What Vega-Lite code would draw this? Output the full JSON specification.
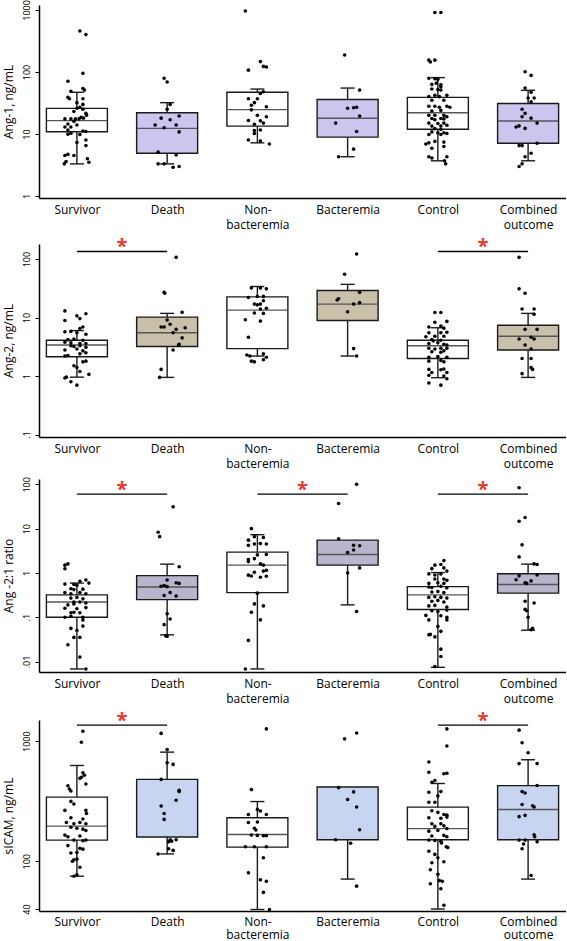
{
"$schema":"https://vega.github.io/schema/vega-lite/v6.json",
"padding":{"left":2,"top":-1,"right":0,"bottom":0},
"spacing":7,
"resolve":{"scale":{"fill":"independent"}},
"config":{"font":"Open Sans","view":{"stroke":null},"axis":{"grid":false,"domainColor":"black","tickColor":"black","labelColor":"black","titleColor":"black","labelFont":"Open Sans","titleFont":"Open Sans"},"axisY":{"labelFlush":false}},
"datasets":{
"p1":[
{"g":"Survivor","v":457,"j":0.1},{"g":"Survivor","v":400,"j":0.3},{"g":"Survivor","v":95,"j":0.2},{"g":"Survivor","v":71,"j":-0.3},{"g":"Survivor","v":49,"j":-0.2},{"g":"Survivor","v":54,"j":0.2},{"g":"Survivor","v":51,"j":0.25},{"g":"Survivor","v":39,"j":-0.3},{"g":"Survivor","v":37,"j":-0.25},{"g":"Survivor","v":37,"j":0.2},{"g":"Survivor","v":32,"j":0},{"g":"Survivor","v":30,"j":0.2},{"g":"Survivor","v":27,"j":0.1},{"g":"Survivor","v":26,"j":0},{"g":"Survivor","v":25,"j":0.2},{"g":"Survivor","v":23,"j":-0.1},{"g":"Survivor","v":21.5,"j":0.3},{"g":"Survivor","v":20,"j":0.32},{"g":"Survivor","v":18,"j":0.22},{"g":"Survivor","v":17.5,"j":-0.4},{"g":"Survivor","v":17.5,"j":-0.2},{"g":"Survivor","v":17.5,"j":-0.05},{"g":"Survivor","v":17.5,"j":0.07},{"g":"Survivor","v":18.5,"j":0.14},{"g":"Survivor","v":16,"j":-0.1},{"g":"Survivor","v":14.5,"j":-0.3},{"g":"Survivor","v":14,"j":0},{"g":"Survivor","v":13,"j":-0.4},{"g":"Survivor","v":13,"j":-0.2},{"g":"Survivor","v":11.6,"j":-0.3},{"g":"Survivor","v":11.2,"j":0.2},{"g":"Survivor","v":11,"j":0.3},{"g":"Survivor","v":9.9,"j":-0.3},{"g":"Survivor","v":10.3,"j":-0.2},{"g":"Survivor","v":9.8,"j":0.1},{"g":"Survivor","v":7.3,"j":0},{"g":"Survivor","v":8,"j":0.3},{"g":"Survivor","v":6.5,"j":0.3},{"g":"Survivor","v":4.7,"j":-0.3},{"g":"Survivor","v":4.5,"j":-0.4},{"g":"Survivor","v":4.5,"j":-0.1},{"g":"Survivor","v":4.0,"j":0.35},{"g":"Survivor","v":3.5,"j":0.4},{"g":"Survivor","v":3.3,"j":-0.42},{"g":"Survivor","v":3.6,"j":-0.36},
{"g":"Death","v":79,"j":-0.1},{"g":"Death","v":69,"j":0},{"g":"Death","v":30,"j":0.1},{"g":"Death","v":25,"j":0},{"g":"Death","v":19.5,"j":0.4},{"g":"Death","v":18,"j":-0.2},{"g":"Death","v":17,"j":0.1},{"g":"Death","v":14,"j":-0.4},{"g":"Death","v":12.6,"j":-0.1},{"g":"Death","v":14,"j":0.3},{"g":"Death","v":10.8,"j":0.4},{"g":"Death","v":5.1,"j":-0.3},{"g":"Death","v":4.6,"j":0.3},{"g":"Death","v":3.3,"j":-0.3},{"g":"Death","v":3.3,"j":-0.1},{"g":"Death","v":2.9,"j":0.2},{"g":"Death","v":3.0,"j":0.4},
{"g":"Non-bacteremia","v":960,"j":-0.4},{"g":"Non-bacteremia","v":147,"j":0.1},{"g":"Non-bacteremia","v":107,"j":-0.3},{"g":"Non-bacteremia","v":123,"j":0.2},{"g":"Non-bacteremia","v":120,"j":0.3},{"g":"Non-bacteremia","v":48,"j":0.2},{"g":"Non-bacteremia","v":45,"j":0.1},{"g":"Non-bacteremia","v":37,"j":-0.3},{"g":"Non-bacteremia","v":37,"j":0},{"g":"Non-bacteremia","v":32,"j":-0.1},{"g":"Non-bacteremia","v":29,"j":-0.2},{"g":"Non-bacteremia","v":27.5,"j":0.3},{"g":"Non-bacteremia","v":24.5,"j":-0.2},{"g":"Non-bacteremia","v":20,"j":0},{"g":"Non-bacteremia","v":19,"j":0.3},{"g":"Non-bacteremia","v":16.5,"j":-0.3},{"g":"Non-bacteremia","v":16.3,"j":0.1},{"g":"Non-bacteremia","v":14.3,"j":-0.1},{"g":"Non-bacteremia","v":15,"j":0.2},{"g":"Non-bacteremia","v":11.6,"j":0.1},{"g":"Non-bacteremia","v":11.4,"j":-0.1},{"g":"Non-bacteremia","v":10.2,"j":-0.1},{"g":"Non-bacteremia","v":8,"j":-0.3},{"g":"Non-bacteremia","v":7.7,"j":0.1},{"g":"Non-bacteremia","v":6.9,"j":0.4},
{"g":"Bacteremia","v":188,"j":-0.1},{"g":"Bacteremia","v":51,"j":0.4},{"g":"Bacteremia","v":26,"j":0},{"g":"Bacteremia","v":26.5,"j":0.2},{"g":"Bacteremia","v":27,"j":0.3},{"g":"Bacteremia","v":19.5,"j":0.4},{"g":"Bacteremia","v":15,"j":-0.4},{"g":"Bacteremia","v":11,"j":0.3},{"g":"Bacteremia","v":5.7,"j":0.2},{"g":"Bacteremia","v":4.3,"j":-0.3},
{"g":"Control","v":910,"j":-0.1},{"g":"Control","v":910,"j":0.1},{"g":"Control","v":155,"j":-0.3},{"g":"Control","v":145,"j":-0.25},{"g":"Control","v":155,"j":-0.1},{"g":"Control","v":79,"j":-0.3},{"g":"Control","v":78,"j":-0.1},{"g":"Control","v":76,"j":0},{"g":"Control","v":63,"j":-0.2},{"g":"Control","v":62,"j":0.1},{"g":"Control","v":66,"j":-0.05},{"g":"Control","v":58,"j":0.1},{"g":"Control","v":51,"j":0.1},{"g":"Control","v":52,"j":0},{"g":"Control","v":53,"j":-0.2},{"g":"Control","v":40,"j":-0.3},{"g":"Control","v":42,"j":-0.1},{"g":"Control","v":40,"j":0.05},{"g":"Control","v":42,"j":0.3},{"g":"Control","v":35,"j":-0.2},{"g":"Control","v":35,"j":0.2},{"g":"Control","v":28,"j":-0.3},{"g":"Control","v":28,"j":-0.1},{"g":"Control","v":27,"j":0.05},{"g":"Control","v":28,"j":0.3},{"g":"Control","v":27,"j":0.4},{"g":"Control","v":24,"j":0.1},{"g":"Control","v":23.5,"j":-0.2},{"g":"Control","v":20,"j":-0.3},{"g":"Control","v":20,"j":-0.1},{"g":"Control","v":20,"j":0.2},{"g":"Control","v":19,"j":0.3},{"g":"Control","v":17.8,"j":-0.2},{"g":"Control","v":17.8,"j":0.1},{"g":"Control","v":17.5,"j":0.2},{"g":"Control","v":17,"j":-0.1},{"g":"Control","v":15,"j":-0.3},{"g":"Control","v":14.8,"j":0},{"g":"Control","v":15,"j":0.2},{"g":"Control","v":13.4,"j":-0.2},{"g":"Control","v":13.4,"j":0.1},{"g":"Control","v":13.8,"j":0.3},{"g":"Control","v":12.2,"j":-0.1},{"g":"Control","v":11.8,"j":0.1},{"g":"Control","v":10.8,"j":-0.2},{"g":"Control","v":10.5,"j":0},{"g":"Control","v":10.5,"j":0.2},{"g":"Control","v":10.2,"j":0.3},{"g":"Control","v":9.8,"j":-0.3},{"g":"Control","v":9.8,"j":0.1},{"g":"Control","v":7.2,"j":-0.3},{"g":"Control","v":7.6,"j":-0.1},{"g":"Control","v":7.4,"j":0.2},{"g":"Control","v":6.9,"j":-0.4},{"g":"Control","v":6.3,"j":0.2},{"g":"Control","v":5.9,"j":-0.2},{"g":"Control","v":4.3,"j":-0.3},{"g":"Control","v":4.3,"j":0.3},{"g":"Control","v":4.1,"j":-0.2},{"g":"Control","v":3.7,"j":0.22},{"g":"Control","v":3.3,"j":0.26},
{"g":"Combined outcome","v":101,"j":-0.1},{"g":"Combined outcome","v":88,"j":0.1},{"g":"Combined outcome","v":55,"j":-0.1},{"g":"Combined outcome","v":47,"j":0.1},{"g":"Combined outcome","v":38,"j":0.2},{"g":"Combined outcome","v":38,"j":0},{"g":"Combined outcome","v":33,"j":0.1},{"g":"Combined outcome","v":25,"j":-0.2},{"g":"Combined outcome","v":21.5,"j":-0.1},{"g":"Combined outcome","v":19,"j":-0.2},{"g":"Combined outcome","v":18,"j":0.1},{"g":"Combined outcome","v":15,"j":0.3},{"g":"Combined outcome","v":13.5,"j":-0.3},{"g":"Combined outcome","v":13,"j":-0.4},{"g":"Combined outcome","v":12.3,"j":-0.1},{"g":"Combined outcome","v":6.5,"j":-0.3},{"g":"Combined outcome","v":6.5,"j":-0.2},{"g":"Combined outcome","v":7.1,"j":0.3},{"g":"Combined outcome","v":4.9,"j":0.1},{"g":"Combined outcome","v":4.3,"j":-0.1},{"g":"Combined outcome","v":3.0,"j":-0.3},{"g":"Combined outcome","v":3.3,"j":-0.2}
],
"p2":[
{"g":"Survivor","v":13,"j":-0.4},{"g":"Survivor","v":11.6,"j":0.3},{"g":"Survivor","v":10.7,"j":0},{"g":"Survivor","v":8.9,"j":-0.4},{"g":"Survivor","v":9.6,"j":0.1},{"g":"Survivor","v":6.9,"j":0.2},{"g":"Survivor","v":6.5,"j":0.1},{"g":"Survivor","v":5.7,"j":-0.4},{"g":"Survivor","v":5.8,"j":-0.2},{"g":"Survivor","v":5.5,"j":0},{"g":"Survivor","v":5.2,"j":0.3},{"g":"Survivor","v":4.2,"j":-0.3},{"g":"Survivor","v":4.3,"j":-0.1},{"g":"Survivor","v":4.1,"j":0.2},{"g":"Survivor","v":3.8,"j":-0.4},{"g":"Survivor","v":3.7,"j":-0.2},{"g":"Survivor","v":3.6,"j":0.1},{"g":"Survivor","v":3.6,"j":0.3},{"g":"Survivor","v":3.3,"j":-0.2},{"g":"Survivor","v":3.2,"j":-0.1},{"g":"Survivor","v":3.3,"j":0.1},{"g":"Survivor","v":3.1,"j":0.3},{"g":"Survivor","v":2.8,"j":-0.4},{"g":"Survivor","v":2.9,"j":0},{"g":"Survivor","v":2.7,"j":0.2},{"g":"Survivor","v":2.5,"j":0.3},{"g":"Survivor","v":2.4,"j":0.1},{"g":"Survivor","v":2.2,"j":-0.4},{"g":"Survivor","v":2.25,"j":-0.3},{"g":"Survivor","v":1.8,"j":0.3},{"g":"Survivor","v":1.75,"j":0.2},{"g":"Survivor","v":1.5,"j":-0.1},{"g":"Survivor","v":1.4,"j":0},{"g":"Survivor","v":1.2,"j":0.1},{"g":"Survivor","v":1.07,"j":0.4},{"g":"Survivor","v":0.93,"j":-0.4},{"g":"Survivor","v":0.96,"j":-0.35},{"g":"Survivor","v":0.8,"j":-0.2},{"g":"Survivor","v":0.7,"j":0},
{"g":"Death","v":107,"j":0.3},{"g":"Death","v":27,"j":-0.1},{"g":"Death","v":26,"j":-0.08},{"g":"Death","v":12.3,"j":0.5},{"g":"Death","v":9.1,"j":0},{"g":"Death","v":7.7,"j":0.1},{"g":"Death","v":6.9,"j":-0.2},{"g":"Death","v":6.9,"j":-0.1},{"g":"Death","v":6.7,"j":0.6},{"g":"Death","v":6.3,"j":0.3},{"g":"Death","v":5.5,"j":0.2},{"g":"Death","v":4.5,"j":0.5},{"g":"Death","v":3.5,"j":0.4},{"g":"Death","v":3.4,"j":0.38},{"g":"Death","v":2.8,"j":0.2},{"g":"Death","v":1.3,"j":-0.2},{"g":"Death","v":0.95,"j":-0.25},
{"g":"Non-bacteremia","v":32,"j":-0.2},{"g":"Non-bacteremia","v":32,"j":0.1},{"g":"Non-bacteremia","v":31,"j":0.3},{"g":"Non-bacteremia","v":23,"j":0},{"g":"Non-bacteremia","v":23,"j":0.2},{"g":"Non-bacteremia","v":22,"j":-0.3},{"g":"Non-bacteremia","v":19.4,"j":0.2},{"g":"Non-bacteremia","v":17,"j":-0.1},{"g":"Non-bacteremia","v":16.5,"j":0},{"g":"Non-bacteremia","v":17,"j":0.1},{"g":"Non-bacteremia","v":14.4,"j":0.3},{"g":"Non-bacteremia","v":14,"j":0.1},{"g":"Non-bacteremia","v":12,"j":-0.1},{"g":"Non-bacteremia","v":11.8,"j":0.2},{"g":"Non-bacteremia","v":9.2,"j":-0.4},{"g":"Non-bacteremia","v":8.7,"j":0.1},{"g":"Non-bacteremia","v":4.6,"j":-0.3},{"g":"Non-bacteremia","v":2.3,"j":-0.35},{"g":"Non-bacteremia","v":2.2,"j":-0.25},{"g":"Non-bacteremia","v":2.4,"j":0.2},{"g":"Non-bacteremia","v":2.1,"j":0.3},{"g":"Non-bacteremia","v":1.8,"j":-0.2},{"g":"Non-bacteremia","v":1.75,"j":-0.1},{"g":"Non-bacteremia","v":1.9,"j":0.2},
{"g":"Bacteremia","v":122,"j":0.3},{"g":"Bacteremia","v":55,"j":-0.1},{"g":"Bacteremia","v":27,"j":0.4},{"g":"Bacteremia","v":21,"j":-0.3},{"g":"Bacteremia","v":20,"j":-0.35},{"g":"Bacteremia","v":17,"j":0.2},{"g":"Bacteremia","v":18,"j":0.4},{"g":"Bacteremia","v":12.6,"j":0},{"g":"Bacteremia","v":2.95,"j":0.2},{"g":"Bacteremia","v":2.2,"j":0.3},
{"g":"Control","v":12.2,"j":-0.1},{"g":"Control","v":12.2,"j":0.1},{"g":"Control","v":8.3,"j":-0.1},{"g":"Control","v":8.6,"j":0.3},{"g":"Control","v":6.9,"j":-0.3},{"g":"Control","v":7.2,"j":0.1},{"g":"Control","v":6.6,"j":0.2},{"g":"Control","v":5.5,"j":-0.3},{"g":"Control","v":5.5,"j":0.1},{"g":"Control","v":5.6,"j":0.3},{"g":"Control","v":4.7,"j":-0.4},{"g":"Control","v":4.8,"j":-0.1},{"g":"Control","v":4.8,"j":0.2},{"g":"Control","v":4.2,"j":-0.2},{"g":"Control","v":4.1,"j":0.1},{"g":"Control","v":4.0,"j":-0.15},{"g":"Control","v":3.6,"j":-0.3},{"g":"Control","v":3.7,"j":0},{"g":"Control","v":3.5,"j":0.2},{"g":"Control","v":3.4,"j":0.3},{"g":"Control","v":3.0,"j":-0.3},{"g":"Control","v":2.9,"j":-0.1},{"g":"Control","v":3.0,"j":0.1},{"g":"Control","v":3.0,"j":0.3},{"g":"Control","v":2.6,"j":-0.2},{"g":"Control","v":2.55,"j":0.1},{"g":"Control","v":2.7,"j":0.2},{"g":"Control","v":2.1,"j":-0.3},{"g":"Control","v":2.15,"j":0},{"g":"Control","v":2.1,"j":0.3},{"g":"Control","v":1.8,"j":-0.3},{"g":"Control","v":1.85,"j":0.1},{"g":"Control","v":1.75,"j":0.2},{"g":"Control","v":1.3,"j":-0.3},{"g":"Control","v":1.28,"j":0.1},{"g":"Control","v":1.32,"j":0.2},{"g":"Control","v":1.15,"j":-0.2},{"g":"Control","v":1.15,"j":0.3},{"g":"Control","v":1.03,"j":-0.3},{"g":"Control","v":1.0,"j":0.2},{"g":"Control","v":0.9,"j":0.3},{"g":"Control","v":0.76,"j":-0.3},{"g":"Control","v":0.7,"j":0.1},
{"g":"Combined outcome","v":107,"j":-0.3},{"g":"Combined outcome","v":31,"j":-0.3},{"g":"Combined outcome","v":26,"j":-0.1},{"g":"Combined outcome","v":14,"j":-0.2},{"g":"Combined outcome","v":14,"j":0.2},{"g":"Combined outcome","v":11.4,"j":0.2},{"g":"Combined outcome","v":6.3,"j":-0.1},{"g":"Combined outcome","v":6.3,"j":0.3},{"g":"Combined outcome","v":4.3,"j":-0.3},{"g":"Combined outcome","v":4.6,"j":0.1},{"g":"Combined outcome","v":4.3,"j":0.2},{"g":"Combined outcome","v":3.4,"j":-0.1},{"g":"Combined outcome","v":2.9,"j":0.1},{"g":"Combined outcome","v":2.0,"j":-0.2},{"g":"Combined outcome","v":2.0,"j":0.1},{"g":"Combined outcome","v":1.4,"j":0.1},{"g":"Combined outcome","v":1.3,"j":0.15},{"g":"Combined outcome","v":1.1,"j":-0.2}
],
"p3":[
{"g":"Survivor","v":1.5,"j":-0.4},{"g":"Survivor","v":1.6,"j":-0.3},{"g":"Survivor","v":1.24,"j":-0.4},{"g":"Survivor","v":0.69,"j":0.3},{"g":"Survivor","v":0.65,"j":0.1},{"g":"Survivor","v":0.59,"j":0.4},{"g":"Survivor","v":0.56,"j":-0.4},{"g":"Survivor","v":0.55,"j":-0.1},{"g":"Survivor","v":0.53,"j":0},{"g":"Survivor","v":0.44,"j":-0.2},{"g":"Survivor","v":0.42,"j":-0.1},{"g":"Survivor","v":0.43,"j":0.2},{"g":"Survivor","v":0.36,"j":-0.4},{"g":"Survivor","v":0.34,"j":-0.2},{"g":"Survivor","v":0.36,"j":0.1},{"g":"Survivor","v":0.34,"j":0.3},{"g":"Survivor","v":0.27,"j":-0.2},{"g":"Survivor","v":0.28,"j":0},{"g":"Survivor","v":0.26,"j":0.2},{"g":"Survivor","v":0.22,"j":-0.1},{"g":"Survivor","v":0.22,"j":0.1},{"g":"Survivor","v":0.21,"j":0.3},{"g":"Survivor","v":0.2,"j":-0.1},{"g":"Survivor","v":0.19,"j":-0.3},{"g":"Survivor","v":0.16,"j":-0.4},{"g":"Survivor","v":0.155,"j":0},{"g":"Survivor","v":0.165,"j":0.3},{"g":"Survivor","v":0.126,"j":-0.2},{"g":"Survivor","v":0.13,"j":-0.1},{"g":"Survivor","v":0.126,"j":0.1},{"g":"Survivor","v":0.1,"j":-0.4},{"g":"Survivor","v":0.105,"j":-0.2},{"g":"Survivor","v":0.1,"j":0.2},{"g":"Survivor","v":0.087,"j":0.2},{"g":"Survivor","v":0.056,"j":-0.2},{"g":"Survivor","v":0.05,"j":0},{"g":"Survivor","v":0.063,"j":0.2},{"g":"Survivor","v":0.035,"j":-0.1},{"g":"Survivor","v":0.035,"j":0.1},{"g":"Survivor","v":0.024,"j":-0.3},{"g":"Survivor","v":0.0126,"j":0.1},{"g":"Survivor","v":0.0068,"j":0.3},
{"g":"Death","v":31,"j":0.2},{"g":"Death","v":8.3,"j":-0.3},{"g":"Death","v":6.6,"j":-0.25},{"g":"Death","v":1.38,"j":0.4},{"g":"Death","v":0.69,"j":0},{"g":"Death","v":0.6,"j":0.3},{"g":"Death","v":0.58,"j":0.4},{"g":"Death","v":0.5,"j":-0.2},{"g":"Death","v":0.52,"j":-0.1},{"g":"Death","v":0.49,"j":0},{"g":"Death","v":0.36,"j":0.1},{"g":"Death","v":0.3,"j":0.3},{"g":"Death","v":0.31,"j":-0.1},{"g":"Death","v":0.12,"j":0},{"g":"Death","v":0.091,"j":0.1},{"g":"Death","v":0.068,"j":-0.1},{"g":"Death","v":0.037,"j":0},{"g":"Death","v":0.038,"j":-0.05},
{"g":"Non-bacteremia","v":10,"j":-0.2},{"g":"Non-bacteremia","v":6.6,"j":-0.1},{"g":"Non-bacteremia","v":5.5,"j":-0.3},{"g":"Non-bacteremia","v":6.3,"j":0.2},{"g":"Non-bacteremia","v":4.5,"j":-0.1},{"g":"Non-bacteremia","v":4.6,"j":0.1},{"g":"Non-bacteremia","v":4.5,"j":0.3},{"g":"Non-bacteremia","v":4.2,"j":-0.3},{"g":"Non-bacteremia","v":2.6,"j":0.3},{"g":"Non-bacteremia","v":2.55,"j":0},{"g":"Non-bacteremia","v":2.0,"j":-0.3},{"g":"Non-bacteremia","v":2.1,"j":-0.1},{"g":"Non-bacteremia","v":1.8,"j":-0.3},{"g":"Non-bacteremia","v":1.6,"j":0.1},{"g":"Non-bacteremia","v":1.5,"j":0.2},{"g":"Non-bacteremia","v":1.03,"j":-0.1},{"g":"Non-bacteremia","v":1.1,"j":0.2},{"g":"Non-bacteremia","v":1.15,"j":0.3},{"g":"Non-bacteremia","v":0.89,"j":-0.3},{"g":"Non-bacteremia","v":0.85,"j":-0.2},{"g":"Non-bacteremia","v":0.8,"j":0.1},{"g":"Non-bacteremia","v":0.84,"j":0.3},{"g":"Non-bacteremia","v":0.35,"j":0},{"g":"Non-bacteremia","v":0.2,"j":-0.1},{"g":"Non-bacteremia","v":0.18,"j":0.2},{"g":"Non-bacteremia","v":0.13,"j":-0.2},{"g":"Non-bacteremia","v":0.087,"j":0.1},{"g":"Non-bacteremia","v":0.03,"j":-0.3},{"g":"Non-bacteremia","v":0.0068,"j":-0.4},
{"g":"Bacteremia","v":100,"j":0.3},{"g":"Bacteremia","v":37,"j":-0.3},{"g":"Bacteremia","v":5.9,"j":-0.3},{"g":"Bacteremia","v":4.2,"j":0.2},{"g":"Bacteremia","v":4.1,"j":0.4},{"g":"Bacteremia","v":3.3,"j":0.2},{"g":"Bacteremia","v":2.9,"j":0},{"g":"Bacteremia","v":1.0,"j":0},{"g":"Bacteremia","v":1.3,"j":0.4},{"g":"Bacteremia","v":0.135,"j":0.3},
{"g":"Control","v":1.9,"j":0.2},{"g":"Control","v":1.5,"j":-0.1},{"g":"Control","v":1.55,"j":0.1},{"g":"Control","v":1.25,"j":-0.2},{"g":"Control","v":1.3,"j":0.2},{"g":"Control","v":1.1,"j":0.3},{"g":"Control","v":0.95,"j":-0.3},{"g":"Control","v":0.9,"j":-0.1},{"g":"Control","v":0.95,"j":0.1},{"g":"Control","v":0.73,"j":-0.1},{"g":"Control","v":0.73,"j":0.2},{"g":"Control","v":0.68,"j":0.3},{"g":"Control","v":0.58,"j":-0.3},{"g":"Control","v":0.6,"j":0},{"g":"Control","v":0.58,"j":0.2},{"g":"Control","v":0.48,"j":-0.3},{"g":"Control","v":0.47,"j":-0.2},{"g":"Control","v":0.5,"j":0.1},{"g":"Control","v":0.46,"j":0.3},{"g":"Control","v":0.37,"j":-0.2},{"g":"Control","v":0.38,"j":0},{"g":"Control","v":0.36,"j":0.2},{"g":"Control","v":0.28,"j":-0.3},{"g":"Control","v":0.29,"j":-0.1},{"g":"Control","v":0.28,"j":0.1},{"g":"Control","v":0.27,"j":0.3},{"g":"Control","v":0.23,"j":-0.2},{"g":"Control","v":0.24,"j":0},{"g":"Control","v":0.22,"j":0.2},{"g":"Control","v":0.18,"j":-0.3},{"g":"Control","v":0.185,"j":-0.1},{"g":"Control","v":0.17,"j":0.3},{"g":"Control","v":0.14,"j":-0.2},{"g":"Control","v":0.135,"j":0},{"g":"Control","v":0.145,"j":0.3},{"g":"Control","v":0.11,"j":-0.4},{"g":"Control","v":0.108,"j":0.1},{"g":"Control","v":0.1,"j":0.3},{"g":"Control","v":0.087,"j":-0.3},{"g":"Control","v":0.087,"j":0.3},{"g":"Control","v":0.062,"j":0},{"g":"Control","v":0.048,"j":0.1},{"g":"Control","v":0.04,"j":-0.3},{"g":"Control","v":0.041,"j":-0.25},{"g":"Control","v":0.036,"j":-0.1},{"g":"Control","v":0.019,"j":0.1},{"g":"Control","v":0.013,"j":0.1},{"g":"Control","v":0.0077,"j":-0.1},
{"g":"Combined outcome","v":84,"j":-0.3},{"g":"Combined outcome","v":14.7,"j":-0.3},{"g":"Combined outcome","v":17.8,"j":-0.1},{"g":"Combined outcome","v":4.3,"j":-0.2},{"g":"Combined outcome","v":2.3,"j":-0.3},{"g":"Combined outcome","v":1.6,"j":0.2},{"g":"Combined outcome","v":1.55,"j":0.3},{"g":"Combined outcome","v":0.9,"j":0.3},{"g":"Combined outcome","v":0.86,"j":-0.3},{"g":"Combined outcome","v":0.7,"j":-0.4},{"g":"Combined outcome","v":0.6,"j":-0.1},{"g":"Combined outcome","v":0.66,"j":0.1},{"g":"Combined outcome","v":0.58,"j":-0.05},{"g":"Combined outcome","v":0.23,"j":-0.1},{"g":"Combined outcome","v":0.21,"j":0.2},{"g":"Combined outcome","v":0.15,"j":-0.1},{"g":"Combined outcome","v":0.14,"j":-0.05},{"g":"Combined outcome","v":0.1,"j":0},{"g":"Combined outcome","v":0.056,"j":0.15},{"g":"Combined outcome","v":0.052,"j":0.1}
],
"p4":[
{"g":"Survivor","v":1210,"j":0.2},{"g":"Survivor","v":980,"j":0.15},{"g":"Survivor","v":545,"j":0.2},{"g":"Survivor","v":520,"j":0.25},{"g":"Survivor","v":500,"j":0.15},{"g":"Survivor","v":440,"j":0.3},{"g":"Survivor","v":425,"j":-0.3},{"g":"Survivor","v":400,"j":-0.25},{"g":"Survivor","v":490,"j":0.1},{"g":"Survivor","v":384,"j":-0.2},{"g":"Survivor","v":315,"j":-0.2},{"g":"Survivor","v":300,"j":-0.1},{"g":"Survivor","v":265,"j":-0.4},{"g":"Survivor","v":265,"j":0.3},{"g":"Survivor","v":250,"j":0.32},{"g":"Survivor","v":230,"j":-0.2},{"g":"Survivor","v":225,"j":0.2},{"g":"Survivor","v":210,"j":-0.35},{"g":"Survivor","v":205,"j":-0.1},{"g":"Survivor","v":210,"j":0.1},{"g":"Survivor","v":205,"j":0.3},{"g":"Survivor","v":192,"j":-0.2},{"g":"Survivor","v":188,"j":0},{"g":"Survivor","v":185,"j":0.2},{"g":"Survivor","v":180,"j":0.3},{"g":"Survivor","v":165,"j":-0.4},{"g":"Survivor","v":160,"j":-0.3},{"g":"Survivor","v":162,"j":0.1},{"g":"Survivor","v":150,"j":-0.1},{"g":"Survivor","v":148,"j":0.2},{"g":"Survivor","v":150,"j":0.3},{"g":"Survivor","v":135,"j":-0.3},{"g":"Survivor","v":128,"j":0.1},{"g":"Survivor","v":126,"j":0.2},{"g":"Survivor","v":117,"j":-0.2},{"g":"Survivor","v":118,"j":0},{"g":"Survivor","v":103,"j":-0.1},{"g":"Survivor","v":104,"j":0},{"g":"Survivor","v":100,"j":-0.15},{"g":"Survivor","v":89,"j":0.1},{"g":"Survivor","v":75,"j":-0.1},{"g":"Survivor","v":77,"j":0},
{"g":"Death","v":1160,"j":-0.2},{"g":"Death","v":850,"j":0},{"g":"Death","v":660,"j":0},{"g":"Death","v":640,"j":0.2},{"g":"Death","v":480,"j":-0.2},{"g":"Death","v":390,"j":0.4},{"g":"Death","v":380,"j":0.4},{"g":"Death","v":322,"j":0.3},{"g":"Death","v":288,"j":-0.2},{"g":"Death","v":250,"j":-0.1},{"g":"Death","v":223,"j":-0.1},{"g":"Death","v":151,"j":0.1},{"g":"Death","v":151,"j":0.3},{"g":"Death","v":145,"j":0.05},{"g":"Death","v":147,"j":0.15},{"g":"Death","v":123,"j":0.2},{"g":"Death","v":115,"j":-0.3},{"g":"Death","v":127,"j":0.05},
{"g":"Non-bacteremia","v":1265,"j":0.3},{"g":"Non-bacteremia","v":395,"j":-0.2},{"g":"Non-bacteremia","v":270,"j":0},{"g":"Non-bacteremia","v":262,"j":0.1},{"g":"Non-bacteremia","v":245,"j":-0.3},{"g":"Non-bacteremia","v":245,"j":0.3},{"g":"Non-bacteremia","v":210,"j":-0.3},{"g":"Non-bacteremia","v":212,"j":0},{"g":"Non-bacteremia","v":188,"j":-0.1},{"g":"Non-bacteremia","v":182,"j":-0.05},{"g":"Non-bacteremia","v":165,"j":-0.2},{"g":"Non-bacteremia","v":164,"j":0},{"g":"Non-bacteremia","v":163,"j":0.2},{"g":"Non-bacteremia","v":163,"j":0.3},{"g":"Non-bacteremia","v":132,"j":-0.4},{"g":"Non-bacteremia","v":132,"j":-0.1},{"g":"Non-bacteremia","v":132,"j":0.3},{"g":"Non-bacteremia","v":107,"j":0.2},{"g":"Non-bacteremia","v":80,"j":-0.3},{"g":"Non-bacteremia","v":70,"j":0.1},{"g":"Non-bacteremia","v":68,"j":0.3},{"g":"Non-bacteremia","v":55,"j":0.2},{"g":"Non-bacteremia","v":39.5,"j":0.4},
{"g":"Bacteremia","v":1045,"j":-0.1},{"g":"Bacteremia","v":1170,"j":0.3},{"g":"Bacteremia","v":410,"j":-0.3},{"g":"Bacteremia","v":378,"j":0.2},{"g":"Bacteremia","v":327,"j":0},{"g":"Bacteremia","v":283,"j":0.3},{"g":"Bacteremia","v":183,"j":0.4},{"g":"Bacteremia","v":151,"j":-0.4},{"g":"Bacteremia","v":141,"j":0.1},{"g":"Bacteremia","v":62,"j":0.3},
{"g":"Control","v":1265,"j":0.3},{"g":"Control","v":910,"j":0.3},{"g":"Control","v":670,"j":-0.3},{"g":"Control","v":550,"j":-0.3},{"g":"Control","v":535,"j":0.2},{"g":"Control","v":540,"j":0.3},{"g":"Control","v":470,"j":-0.1},{"g":"Control","v":455,"j":-0.2},{"g":"Control","v":380,"j":0.1},{"g":"Control","v":375,"j":-0.3},{"g":"Control","v":350,"j":0},{"g":"Control","v":310,"j":-0.3},{"g":"Control","v":310,"j":-0.1},{"g":"Control","v":263,"j":-0.2},{"g":"Control","v":255,"j":0},{"g":"Control","v":245,"j":0.2},{"g":"Control","v":242,"j":0.3},{"g":"Control","v":230,"j":-0.3},{"g":"Control","v":228,"j":0.1},{"g":"Control","v":233,"j":0.3},{"g":"Control","v":205,"j":-0.2},{"g":"Control","v":205,"j":0.1},{"g":"Control","v":195,"j":-0.1},{"g":"Control","v":197,"j":0.2},{"g":"Control","v":187,"j":0.3},{"g":"Control","v":178,"j":-0.3},{"g":"Control","v":180,"j":0},{"g":"Control","v":162,"j":-0.2},{"g":"Control","v":164,"j":0.2},{"g":"Control","v":160,"j":0.3},{"g":"Control","v":150,"j":-0.3},{"g":"Control","v":149,"j":-0.1},{"g":"Control","v":147,"j":0.1},{"g":"Control","v":142,"j":0.12},{"g":"Control","v":132,"j":0.28},{"g":"Control","v":130,"j":0.33},{"g":"Control","v":121,"j":-0.3},{"g":"Control","v":114,"j":-0.1},{"g":"Control","v":107,"j":0},{"g":"Control","v":97,"j":-0.2},{"g":"Control","v":99,"j":0.2},{"g":"Control","v":85,"j":-0.25},{"g":"Control","v":78,"j":0},{"g":"Control","v":69,"j":0.05},{"g":"Control","v":68,"j":0.15},{"g":"Control","v":65,"j":-0.25},{"g":"Control","v":59,"j":0.1},{"g":"Control","v":43,"j":0.2},
{"g":"Combined outcome","v":1235,"j":-0.3},{"g":"Combined outcome","v":970,"j":-0.2},{"g":"Combined outcome","v":800,"j":0},{"g":"Combined outcome","v":650,"j":-0.3},{"g":"Combined outcome","v":650,"j":0.3},{"g":"Combined outcome","v":427,"j":0.3},{"g":"Combined outcome","v":380,"j":-0.2},{"g":"Combined outcome","v":370,"j":-0.1},{"g":"Combined outcome","v":297,"j":-0.2},{"g":"Combined outcome","v":290,"j":0.15},{"g":"Combined outcome","v":283,"j":0.2},{"g":"Combined outcome","v":235,"j":-0.3},{"g":"Combined outcome","v":241,"j":-0.1},{"g":"Combined outcome","v":166,"j":0.2},{"g":"Combined outcome","v":160,"j":0.22},{"g":"Combined outcome","v":150,"j":-0.3},{"g":"Combined outcome","v":150,"j":-0.1},{"g":"Combined outcome","v":145,"j":0.3},{"g":"Combined outcome","v":139,"j":-0.15},{"g":"Combined outcome","v":127,"j":-0.2},{"g":"Combined outcome","v":76,"j":0.1}
],
"b1":[
{"g":"Survivor","lo":3.3,"q1":10.9,"med":16.4,"q3":25.9,"hi":47},
{"g":"Death","lo":3.3,"q1":4.9,"med":12.3,"q3":22,"hi":32},
{"g":"Non-bacteremia","lo":7.2,"q1":13.4,"med":24.7,"q3":47,"hi":53},
{"g":"Bacteremia","lo":4.3,"q1":8.9,"med":17.9,"q3":36,"hi":55},
{"g":"Control","lo":3.7,"q1":11.9,"med":22,"q3":39,"hi":81},
{"g":"Combined outcome","lo":3.7,"q1":7.1,"med":16.2,"q3":31,"hi":50.6}],
"b2":[
{"g":"Survivor","lo":0.96,"q1":2.14,"med":3.4,"q3":4.1,"hi":6.0},
{"g":"Death","lo":0.95,"q1":3.2,"med":5.5,"q3":10.2,"hi":11.8},
{"g":"Non-bacteremia","lo":2.2,"q1":2.95,"med":13.4,"q3":22.6,"hi":34},
{"g":"Bacteremia","lo":2.2,"q1":8.9,"med":17,"q3":29,"hi":37},
{"g":"Control","lo":0.94,"q1":2.0,"med":3.3,"q3":4.1,"hi":6.7},
{"g":"Combined outcome","lo":0.95,"q1":2.8,"med":4.8,"q3":7.4,"hi":11.8}],
"b3":[
{"g":"Survivor","lo":0.0068,"q1":0.1,"med":0.22,"q3":0.32,"hi":0.59},
{"g":"Death","lo":0.04,"q1":0.25,"med":0.48,"q3":0.87,"hi":1.58},
{"g":"Non-bacteremia","lo":0.0068,"q1":0.36,"med":1.5,"q3":2.95,"hi":7.3},
{"g":"Bacteremia","lo":0.19,"q1":1.5,"med":2.6,"q3":5.5,"hi":null},
{"g":"Control","lo":0.0074,"q1":0.15,"med":0.32,"q3":0.49,"hi":1.02},
{"g":"Combined outcome","lo":0.051,"q1":0.35,"med":0.55,"q3":0.96,"hi":1.58}],
"b4":[
{"g":"Survivor","lo":75,"q1":150,"med":196,"q3":342,"hi":627},
{"g":"Death","lo":115,"q1":159,"med":null,"q3":480,"hi":810},
{"g":"Non-bacteremia","lo":39.6,"q1":131,"med":167,"q3":230,"hi":314},
{"g":"Bacteremia","lo":71,"q1":151,"med":null,"q3":415,"hi":null},
{"g":"Control","lo":40,"q1":151,"med":187,"q3":282,"hi":444},
{"g":"Combined outcome","lo":71,"q1":151,"med":270,"q3":426,"hi":700}],
"s2":[{"a":"Survivor","b":"Death","y":135},{"a":"Control","b":"Combined outcome","y":135}],
"s3":[{"a":"Survivor","b":"Death","y":60},{"a":"Non-bacteremia","b":"Bacteremia","y":60},{"a":"Control","b":"Combined outcome","y":60}],
"s4":[{"a":"Survivor","b":"Death","y":1360},{"a":"Control","b":"Combined outcome","y":1360}]
},
"vconcat":[
{"width":527,"height":193,
"layer":[
{"data":{"name":"b1"},"mark":{"type":"bar","width":61,"stroke":"#1a1a1a","strokeWidth":1.4},
"encoding":{"x":{"field":"g","type":"nominal","scale":{"type":"point","domain":["Survivor","Death","Non-bacteremia","Bacteremia","Control","Combined outcome"],"padding":0.42},"axis":{"title":null,"ticks":false,"domainWidth":1.5,"labelFontSize":12,"labelPadding":6,"labelAngle":0,"labelBaseline":"top","labelLineHeight":15,"labelExpr":"datum.value=='Non-bacteremia'?['Non-','bacteremia']:datum.value=='Combined outcome'?['Combined','outcome']:datum.value"}},
"y":{"field":"q1","type":"quantitative","scale":{"type":"log","domain":[0.93,1200],"nice":false},"axis":{"title":"Ang-1, ng/mL","titleFontSize":12,"titleFontWeight":"normal","titlePadding":7,"values":[1,10,100,1000],"labelAngle":270,"labelFontSize":9,"labelPadding":4,"tickSize":4,"domainWidth":1.5,"labelExpr":"datum.value"}},
"y2":{"field":"q3"},
"fill":{"field":"g","type":"nominal","scale":{"domain":["Survivor","Death","Non-bacteremia","Bacteremia","Control","Combined outcome"],"range":["#ffffff","#cec5ee","#ffffff","#cec5ee","#ffffff","#cec5ee"]},"legend":null}}},
{"data":{"name":"b1"},"mark":{"type":"rule","color":"#1a1a1a","strokeWidth":1.4},"encoding":{"x":{"field":"g","type":"nominal","title":null},"y":{"field":"lo","type":"quantitative"},"y2":{"field":"q1"}}},
{"data":{"name":"b1"},"mark":{"type":"rule","color":"#1a1a1a","strokeWidth":1.4},"encoding":{"x":{"field":"g","type":"nominal","title":null},"y":{"field":"q3","type":"quantitative"},"y2":{"field":"hi"}}},
{"data":{"name":"b1"},"mark":{"type":"tick","size":14,"thickness":1.4,"color":"#1a1a1a","opacity":1},"encoding":{"x":{"field":"g","type":"nominal","title":null},"y":{"field":"lo","type":"quantitative"}}},
{"data":{"name":"b1"},"mark":{"type":"tick","size":14,"thickness":1.4,"color":"#1a1a1a","opacity":1},"encoding":{"x":{"field":"g","type":"nominal","title":null},"y":{"field":"hi","type":"quantitative"}}},
{"data":{"name":"b1"},"mark":{"type":"tick","size":60,"thickness":1.4,"color":"#555555","opacity":1},"encoding":{"x":{"field":"g","type":"nominal","title":null},"y":{"field":"med","type":"quantitative"}}},
{"data":{"name":"p1"},"mark":{"type":"circle","size":13,"color":"#000000","opacity":1},"encoding":{"x":{"field":"g","type":"nominal","title":null},"xOffset":{"field":"j","type":"quantitative","scale":{"domain":[-1,1],"range":[-30,30]}},"y":{"field":"v","type":"quantitative"}}}
]},
{"width":527,"height":193,
"layer":[
{"data":{"name":"b2"},"mark":{"type":"bar","width":61,"stroke":"#1a1a1a","strokeWidth":1.4},
"encoding":{"x":{"field":"g","type":"nominal","scale":{"type":"point","domain":["Survivor","Death","Non-bacteremia","Bacteremia","Control","Combined outcome"],"padding":0.42},"axis":{"title":null,"ticks":false,"domainWidth":1.5,"labelFontSize":12,"labelPadding":6,"labelAngle":0,"labelBaseline":"top","labelLineHeight":15,"labelExpr":"datum.value=='Non-bacteremia'?['Non-','bacteremia']:datum.value=='Combined outcome'?['Combined','outcome']:datum.value"}},
"y":{"field":"q1","type":"quantitative","scale":{"type":"log","domain":[0.091,181],"nice":false},"axis":{"title":"Ang-2, ng/mL","titleFontSize":12,"titleFontWeight":"normal","titlePadding":7,"values":[0.1,1,10,100],"labelAngle":270,"labelFontSize":9,"labelPadding":4,"tickSize":4,"domainWidth":1.5,"labelExpr":"datum.value==0.1?'.1':datum.value"}},
"y2":{"field":"q3"},
"fill":{"field":"g","type":"nominal","scale":{"domain":["Survivor","Death","Non-bacteremia","Bacteremia","Control","Combined outcome"],"range":["#ffffff","#c9c0a9","#ffffff","#c9c0a9","#ffffff","#c9c0a9"]},"legend":null}}},
{"data":{"name":"b2"},"mark":{"type":"rule","color":"#1a1a1a","strokeWidth":1.4},"encoding":{"x":{"field":"g","type":"nominal","title":null},"y":{"field":"lo","type":"quantitative"},"y2":{"field":"q1"}}},
{"data":{"name":"b2"},"mark":{"type":"rule","color":"#1a1a1a","strokeWidth":1.4},"encoding":{"x":{"field":"g","type":"nominal","title":null},"y":{"field":"q3","type":"quantitative"},"y2":{"field":"hi"}}},
{"data":{"name":"b2"},"mark":{"type":"tick","size":14,"thickness":1.4,"color":"#1a1a1a","opacity":1},"encoding":{"x":{"field":"g","type":"nominal","title":null},"y":{"field":"lo","type":"quantitative"}}},
{"data":{"name":"b2"},"mark":{"type":"tick","size":14,"thickness":1.4,"color":"#1a1a1a","opacity":1},"encoding":{"x":{"field":"g","type":"nominal","title":null},"y":{"field":"hi","type":"quantitative"}}},
{"data":{"name":"b2"},"mark":{"type":"tick","size":60,"thickness":1.4,"color":"#555555","opacity":1},"encoding":{"x":{"field":"g","type":"nominal","title":null},"y":{"field":"med","type":"quantitative"}}},
{"data":{"name":"p2"},"mark":{"type":"circle","size":13,"color":"#000000","opacity":1},"encoding":{"x":{"field":"g","type":"nominal","title":null},"xOffset":{"field":"j","type":"quantitative","scale":{"domain":[-1,1],"range":[-30,30]}},"y":{"field":"v","type":"quantitative"}}},
{"data":{"name":"s2"},"mark":{"type":"rule","color":"#000000","strokeWidth":1.4},"encoding":{"x":{"field":"a","type":"nominal","title":null},"x2":{"field":"b"},"y":{"field":"y","type":"quantitative"}}},
{"data":{"name":"s2"},"mark":{"type":"text","text":"*","color":"#e8392e","fontSize":20,"fontWeight":"bold","dx":45,"dy":-4},"encoding":{"x":{"field":"a","type":"nominal","title":null},"y":{"field":"y","type":"quantitative"}}}
]},
{"width":527,"height":193,
"layer":[
{"data":{"name":"b3"},"mark":{"type":"bar","width":61,"stroke":"#1a1a1a","strokeWidth":1.4},
"encoding":{"x":{"field":"g","type":"nominal","scale":{"type":"point","domain":["Survivor","Death","Non-bacteremia","Bacteremia","Control","Combined outcome"],"padding":0.42},"axis":{"title":null,"ticks":false,"domainWidth":1.5,"labelFontSize":12,"labelPadding":6,"labelAngle":0,"labelBaseline":"top","labelLineHeight":15,"labelExpr":"datum.value=='Non-bacteremia'?['Non-','bacteremia']:datum.value=='Combined outcome'?['Combined','outcome']:datum.value"}},
"y":{"field":"q1","type":"quantitative","scale":{"type":"log","domain":[0.0058,132],"nice":false},"axis":{"title":"Ang -2:1 ratio","titleFontSize":12,"titleFontWeight":"normal","titlePadding":7,"values":[0.01,0.1,1,10,100],"labelAngle":270,"labelFontSize":9,"labelPadding":4,"tickSize":4,"domainWidth":1.5,"labelExpr":"datum.value==0.1?'.1':datum.value==0.01?'.01':datum.value"}},
"y2":{"field":"q3"},
"fill":{"field":"g","type":"nominal","scale":{"domain":["Survivor","Death","Non-bacteremia","Bacteremia","Control","Combined outcome"],"range":["#ffffff","#bab4cd","#ffffff","#bab4cd","#ffffff","#bab4cd"]},"legend":null}}},
{"data":{"name":"b3"},"mark":{"type":"rule","color":"#1a1a1a","strokeWidth":1.4},"encoding":{"x":{"field":"g","type":"nominal","title":null},"y":{"field":"lo","type":"quantitative"},"y2":{"field":"q1"}}},
{"data":{"name":"b3"},"mark":{"type":"rule","color":"#1a1a1a","strokeWidth":1.4},"encoding":{"x":{"field":"g","type":"nominal","title":null},"y":{"field":"q3","type":"quantitative"},"y2":{"field":"hi"}}},
{"data":{"name":"b3"},"mark":{"type":"tick","size":14,"thickness":1.4,"color":"#1a1a1a","opacity":1},"encoding":{"x":{"field":"g","type":"nominal","title":null},"y":{"field":"lo","type":"quantitative"}}},
{"data":{"name":"b3"},"mark":{"type":"tick","size":14,"thickness":1.4,"color":"#1a1a1a","opacity":1},"encoding":{"x":{"field":"g","type":"nominal","title":null},"y":{"field":"hi","type":"quantitative"}}},
{"data":{"name":"b3"},"mark":{"type":"tick","size":60,"thickness":1.4,"color":"#555555","opacity":1},"encoding":{"x":{"field":"g","type":"nominal","title":null},"y":{"field":"med","type":"quantitative"}}},
{"data":{"name":"p3"},"mark":{"type":"circle","size":13,"color":"#000000","opacity":1},"encoding":{"x":{"field":"g","type":"nominal","title":null},"xOffset":{"field":"j","type":"quantitative","scale":{"domain":[-1,1],"range":[-30,30]}},"y":{"field":"v","type":"quantitative"}}},
{"data":{"name":"s3"},"mark":{"type":"rule","color":"#000000","strokeWidth":1.4},"encoding":{"x":{"field":"a","type":"nominal","title":null},"x2":{"field":"b"},"y":{"field":"y","type":"quantitative"}}},
{"data":{"name":"s3"},"mark":{"type":"text","text":"*","color":"#e8392e","fontSize":20,"fontWeight":"bold","dx":45,"dy":-4},"encoding":{"x":{"field":"a","type":"nominal","title":null},"y":{"field":"y","type":"quantitative"}}}
]},
{"width":527,"height":191,
"layer":[
{"data":{"name":"b4"},"mark":{"type":"bar","width":61,"stroke":"#1a1a1a","strokeWidth":1.4},
"encoding":{"x":{"field":"g","type":"nominal","scale":{"type":"point","domain":["Survivor","Death","Non-bacteremia","Bacteremia","Control","Combined outcome"],"padding":0.42},"axis":{"title":null,"ticks":false,"domainWidth":1.5,"labelFontSize":12,"labelPadding":5,"labelAngle":0,"labelBaseline":"top","labelLineHeight":13,"labelExpr":"datum.value=='Non-bacteremia'?['Non-','bacteremia']:datum.value=='Combined outcome'?['Combined','outcome']:datum.value"}},
"y":{"field":"q1","type":"quantitative","scale":{"type":"log","domain":[38.5,1500],"nice":false},"axis":{"title":"sICAM, ng/mL","titleFontSize":12,"titleFontWeight":"normal","titlePadding":7,"values":[40,100,1000],"labelAngle":270,"labelFontSize":9,"labelPadding":4,"tickSize":4,"domainWidth":1.5,"labelExpr":"datum.value"}},
"y2":{"field":"q3"},
"fill":{"field":"g","type":"nominal","scale":{"domain":["Survivor","Death","Non-bacteremia","Bacteremia","Control","Combined outcome"],"range":["#ffffff","#c7d5f1","#ffffff","#c7d5f1","#ffffff","#c7d5f1"]},"legend":null}}},
{"data":{"name":"b4"},"mark":{"type":"rule","color":"#1a1a1a","strokeWidth":1.4},"encoding":{"x":{"field":"g","type":"nominal","title":null},"y":{"field":"lo","type":"quantitative"},"y2":{"field":"q1"}}},
{"data":{"name":"b4"},"mark":{"type":"rule","color":"#1a1a1a","strokeWidth":1.4},"encoding":{"x":{"field":"g","type":"nominal","title":null},"y":{"field":"q3","type":"quantitative"},"y2":{"field":"hi"}}},
{"data":{"name":"b4"},"mark":{"type":"tick","size":14,"thickness":1.4,"color":"#1a1a1a","opacity":1},"encoding":{"x":{"field":"g","type":"nominal","title":null},"y":{"field":"lo","type":"quantitative"}}},
{"data":{"name":"b4"},"mark":{"type":"tick","size":14,"thickness":1.4,"color":"#1a1a1a","opacity":1},"encoding":{"x":{"field":"g","type":"nominal","title":null},"y":{"field":"hi","type":"quantitative"}}},
{"data":{"name":"b4"},"mark":{"type":"tick","size":60,"thickness":1.4,"color":"#555555","opacity":1},"encoding":{"x":{"field":"g","type":"nominal","title":null},"y":{"field":"med","type":"quantitative"}}},
{"data":{"name":"p4"},"mark":{"type":"circle","size":13,"color":"#000000","opacity":1},"encoding":{"x":{"field":"g","type":"nominal","title":null},"xOffset":{"field":"j","type":"quantitative","scale":{"domain":[-1,1],"range":[-30,30]}},"y":{"field":"v","type":"quantitative"}}},
{"data":{"name":"s4"},"mark":{"type":"rule","color":"#000000","strokeWidth":1.4},"encoding":{"x":{"field":"a","type":"nominal","title":null},"x2":{"field":"b"},"y":{"field":"y","type":"quantitative"}}},
{"data":{"name":"s4"},"mark":{"type":"text","text":"*","color":"#e8392e","fontSize":20,"fontWeight":"bold","dx":45,"dy":-4},"encoding":{"x":{"field":"a","type":"nominal","title":null},"y":{"field":"y","type":"quantitative"}}}
]}
]
}
